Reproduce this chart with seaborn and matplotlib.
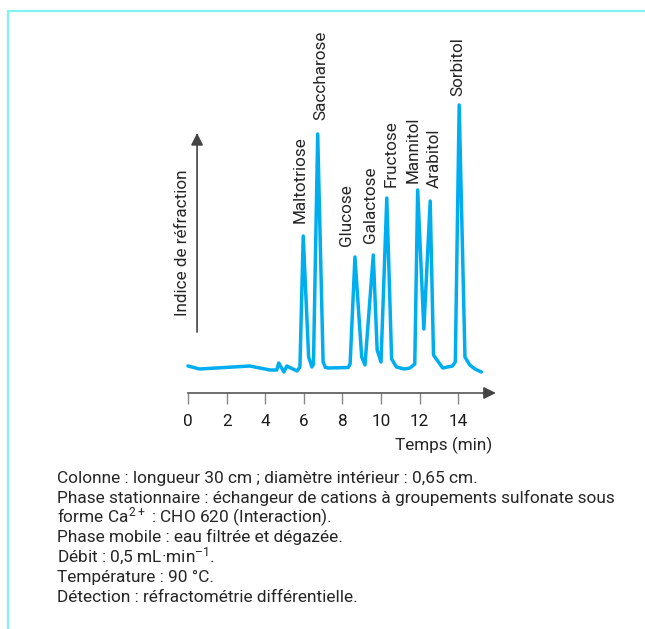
import matplotlib
matplotlib.use("Agg")
import matplotlib.pyplot as plt
from matplotlib.lines import Line2D
import pandas as pd
import seaborn as sns

# Chromatogram trace: retention time (min) and refractive-index signal (a.u.)
time_min = [0.0, 0.6, 3.2, 4.25, 4.6, 4.7, 4.97, 5.12, 5.33, 5.65, 5.8,
            5.97, 6.25, 6.42, 6.5, 6.72, 7.0, 7.12, 7.3, 8.3, 8.4,
            8.65, 9.0, 9.17, 9.6, 9.8, 10.0, 10.3, 10.55, 10.8, 11.2, 11.5, 11.75,
            11.9, 12.22, 12.55, 12.72, 12.9, 13.2, 13.7, 13.85,
            14.05, 14.35, 14.6, 14.87, 15.2]
signal = [0.1, -0.2, 0.1, -0.3, -0.3, 0.4, -0.5, 0.1, -0.1, -0.4, 0.0,
          13.1, 1.0, 0.0, 0.3, 23.3, 0.5, -0.05, -0.1, -0.05, 0.3,
          11.0, 1.0, 0.2, 11.2, 1.7, 0.5, 16.9, 0.8, 0.0, -0.2, -0.1, 0.3,
          17.7, 3.8, 16.6, 1.2, 0.7, -0.1, 0.1, 0.5,
          26.2, 1.0, 0.2, -0.2, -0.5]

compounds = ["Maltotriose", "Saccharose", "Glucose", "Galactose",
             "Fructose", "Mannitol", "Arabitol", "Sorbitol"]
peak_time = [5.97, 6.72, 8.65, 9.6, 10.3, 11.9, 12.55, 14.05]

tick_values = [0, 2, 4, 6, 8, 10, 12, 14]
tick_labels = ["0", "2", "4", "6", "8", "10", "12", "14"]

conditions = [
    "Colonne : longueur 30 cm ; diamètre intérieur : 0,65 cm.",
    "Phase stationnaire : échangeur de cations à groupements sulfonate sous",
    "forme Ca$^{2+}$ : CHO 620 (Interaction).",
    "Phase mobile : eau filtrée et dégazée.",
    "Débit : 0,5 mL·min$^{\u2013 1}$.",
    "Température : 90 °C.",
    "Détection : réfractométrie différentielle.",
]

sns.set_theme(style="white")
plt.rcParams["font.family"] = ["Roboto", "DejaVu Sans"]
plt.rcParams["mathtext.fontset"] = "custom"
plt.rcParams["mathtext.rm"] = "Roboto"
plt.rcParams["mathtext.default"] = "regular"

TRACE = "#00AEEF"
INK = "#262626"
AXIS = "#555555"

W, H = 645, 629
fig = plt.figure(figsize=(W / 100, H / 100), dpi=100)
fig.patch.set_facecolor("white")

# axes box in pixels: left/right/top/bottom
L, R, T, B = 168.7, 516.1, 30.0, 460.0
ax = fig.add_axes([L / W, 1 - B / H, (R - L) / W, (B - T) / H])
ax.set_xlim(-1, 17)
ax.set_ylim(-9.3, 33.7)
ax.set_facecolor("none")

df = pd.DataFrame({"t": time_min, "s": signal})
sns.lineplot(data=df, x="t", y="s", ax=ax, color=TRACE, linewidth=2.5,
             sort=False, solid_joinstyle="round", solid_capstyle="round")

# time axis with arrow
x_axis_y = -2.6
for side in ["top", "right", "left"]:
    ax.spines[side].set_visible(False)
ax.spines["bottom"].set_position(("data", x_axis_y))
ax.spines["bottom"].set_bounds(0, 15.5)
ax.spines["bottom"].set_color(AXIS)
ax.spines["bottom"].set_linewidth(1.2)
ax.annotate("", xy=(15.95, x_axis_y), xytext=(15.3, x_axis_y),
            arrowprops=dict(arrowstyle="-|>", color="#444444", lw=1.2,
                            mutation_scale=18, shrinkA=0, shrinkB=0))
ax.set_xticks(tick_values)
ax.set_xticklabels(tick_labels)
ax.tick_params(axis="x", direction="out", length=8, width=1.0, color="#888888",
               pad=7, labelsize=12.3, labelcolor="#1a1a1a", bottom=True)
ax.set_yticks([])
ax.set_xlabel("")
ax.set_ylabel("")
ax.text(15.75, -7.8, "Temps (min)", ha="right", va="center", fontsize=12.3, color=INK)

# signal axis arrow
ax.annotate("", xy=(0.47, 23.4), xytext=(0.47, 3.5),
            arrowprops=dict(arrowstyle="-|>", color="#444444", lw=1.2,
                            mutation_scale=18, shrinkA=0, shrinkB=0))
ax.text(-0.28, 12.4, "Indice de réfraction", rotation=90, ha="center", va="center",
        fontsize=12.3, color=INK)

# peak labels
label_dx = [-3, 3, -8, -3, 4, -5, 4, -1]
label_dy = [13, 14, 11, 12, 11, 7, 13, 9]
lookup = dict(zip(time_min, signal))
for name, t, dx, dy in zip(compounds, peak_time, label_dx, label_dy):
    ax.annotate(name, xy=(t, lookup[t]), xytext=(dx * 0.72, dy * 0.72),
                textcoords="offset points", rotation=90, ha="center", va="bottom",
                fontsize=12.3, color=INK, annotation_clip=False)

# operating conditions
for i, line in enumerate(conditions):
    fig.text(57 / W, 1 - (483 + 19.8 * i) / H, line, ha="left", va="baseline",
             fontsize=12.4, color=INK)

# frame lines
frame = "#80F2F2"
fig.add_artist(Line2D([7.5 / W, 7.5 / W], [0, 1 - 11 / H], transform=fig.transFigure,
                      color=frame, lw=1.6))
fig.add_artist(Line2D([7.5 / W, 1], [1 - 11 / H, 1 - 11 / H], transform=fig.transFigure,
                      color=frame, lw=1.6))

fig.savefig("out.png", dpi=100)
